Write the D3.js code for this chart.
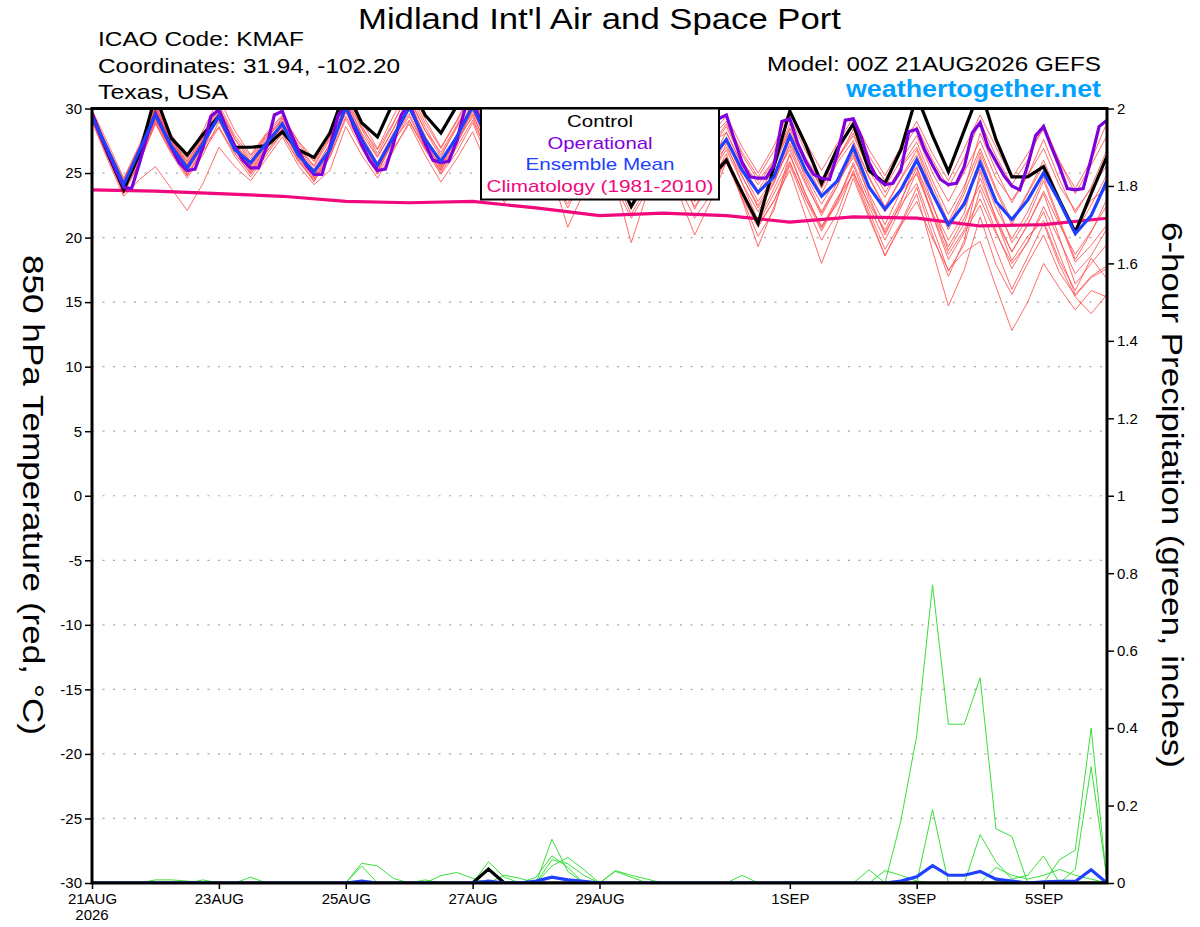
<!DOCTYPE html>
<html>
<head>
<meta charset="utf-8">
<script src="https://cdn.jsdelivr.net/npm/d3@7"></script>
<style>
  body { margin: 0; background: #fff; }
  text { font-family: "Liberation Sans", Arial, Helvetica, sans-serif; }
</style>
</head>
<body>
<svg id="chart" width="1200" height="927"></svg>
<script>
// axis ticks and labels
const tempTicks = [-30,-25,-20,-15,-10,-5,0,5,10,15,20,25,30];
const precipTicks = [0,0.2,0.4,0.6,0.8,1,1.2,1.4,1.6,1.8,2];
const dateTickHours = [0,48,96,144,192,264,312,360];
const dateTickLabels = ["21AUG","23AUG","25AUG","27AUG","29AUG","1SEP","3SEP","5SEP"];
const yearLabel = "2026";
const legendLabels = ["Control","Operational","Ensemble Mean","Climatology (1981-2010)"];

// 6-hourly series, 00Z 21AUG .. 00Z 6SEP (65 values)
const meanTemp = [29.4,26.8,24.1,26.8, 29.5,27.1,25.4,27.3, 29.4,26.8,25.8,27.3, 28.8,26.4,25.1,26.8,
  30.1,27.6,25.6,27.8, 30.1,27.6,25.9,27.8, 30.2,27.5,25.0,27.0, 29.5,27.0,24.8,26.8,
  29.0,26.5,24.2,26.3, 28.6,26.3,24.5,26.0, 27.6,25.2,23.5,24.7, 27.9,25.2,23.2,24.4,
  27.0,23.9,22.2,23.7, 26.0,23.4,21.0,22.6, 25.8,22.8,21.4,22.9, 25.0,22.8,20.3,21.7, 24.4];

const controlTemp = [29.6,26.5,23.7,26.5, 31.0,27.7,26.4,28.0, 29.4,27.0,27.0,27.1, 28.2,26.8,26.2,28.1,
  31.5,28.9,27.8,30.5, 32.0,29.5,28.1,30.2, 32.0,29.0,26.5,28.5, 30.5,27.5,25.5,27.0,
  28.5,25.0,22.4,24.5, 27.5,25.6,23.5,24.6, 26.0,23.5,21.1,25.5, 29.8,27.2,24.2,26.9,
  28.8,25.2,24.2,26.8, 31.0,27.9,25.1,28.3, 31.5,27.6,24.7,24.7, 25.5,22.9,20.4,23.4, 26.3];

// operational run is 3-hourly (129 values)
const opTemp = [29.6,28.0,26.6,25.2,23.9,23.8,25.8,28.0,
  29.6,28.3,27.0,25.8,25.2,25.3,27.0,29.4,
  29.9,28.4,27.1,26.0,25.4,25.4,27.0,29.5,
  29.8,28.2,26.8,25.6,24.9,24.9,27.0,29.4,
  30.3,28.6,27.2,26.0,25.2,25.3,27.2,29.5,
  30.4,28.8,27.3,26.0,25.8,25.9,27.5,29.9,
  30.6,
  29.0,27.6,26.4,25.6,25.5,27.0,29.3,30.0,
  28.5,27.0,25.8,25.0,25.1,26.8,29.0,29.6,
  28.0,26.6,25.3,24.6,24.6,26.2,28.6,29.3,
  27.8,26.5,25.3,24.8,24.9,26.6,29.2,29.5,
  27.6,25.8,24.7,24.6,24.6,25.6,29.0,29.2,
  27.3,25.9,24.9,24.6,24.5,26.5,29.1,29.2,
  27.8,25.8,24.6,24.1,24.2,25.2,28.2,28.4,
  26.8,25.6,24.5,24.1,24.2,25.5,28.1,28.9,
  27.0,25.9,24.8,24.0,23.7,25.6,27.9,28.6,
  27.0,25.5,23.8,23.7,23.8,26.1,28.6,29.1];

// climatology, one value per day at 00Z
const climTemp = [23.7,23.6,23.4,23.2,22.8,22.7,22.8,22.3,21.7,21.9,21.7,21.2,21.6,21.5,20.9,21.0,21.5];

// ensemble members, 6-hourly
const memberTemps = [
  [29.8,26.9,24.0,26.8, 30.2,27.6,25.9,27.8, 29.6,27.2,25.9,27.6, 29.2,27.0,25.6,27.9, 31.0,28.5,26.8,28.9, 31.2,28.6,26.4,28.5, 30.9,28.0,25.6,27.6, 29.8,27.2,25.0,27.3, 29.5,26.9,24.6,26.8, 28.9,26.6,24.8,26.9, 28.6,26.0,24.1,25.9, 28.5,26.2,24.3,26.2, 28.1,25.5,23.9,26.0, 27.9,25.0,22.8,25.1, 27.5,24.6,22.9,24.8, 26.9,24.0,22.1,23.8, 25.6],
  [29.0,26.0,23.2,24.5, 25.5,23.8,22.1,24.2, 27.0,25.5,24.4,26.1, 27.8,25.6,24.1,25.2, 28.6,26.4,24.6,26.7, 29.0,26.8,24.9,26.6, 28.9,26.0,23.6,25.3, 27.9,24.8,20.8,23.5, 27.4,24.6,22.3,24.5, 27.0,24.0,21.5,23.3, 26.2,23.3,21.0,22.8, 25.8,23.0,20.9,22.6, 25.0,22.6,20.6,22.9, 25.4,21.8,18.7,20.6, 23.0,20.3,18.0,19.6, 22.4,19.8,17.2,18.6, 20.7],
  [29.2,26.4,23.6,26.2, 29.0,26.7,24.8,26.9, 29.9,27.3,25.5,27.2, 28.3,26.2,24.6,26.5, 30.8,28.0,25.1,27.9, 30.6,27.9,25.8,28.0, 29.6,26.8,24.3,26.5, 28.4,25.6,23.4,25.9, 28.1,25.4,23.3,25.0, 27.0,24.8,22.9,24.9, 26.8,24.2,22.0,24.2, 27.3,24.8,22.6,24.6, 26.4,23.4,21.0,23.6, 24.9,21.9,19.3,21.5, 24.1,21.3,18.9,21.0, 23.6,21.0,18.7,20.5, 22.5],
  [29.9,27.3,24.6,27.2, 30.5,28.0,26.1,28.3, 30.8,28.3,26.4,28.1, 29.5,27.4,25.9,28.2, 31.6,29.0,26.9,29.4, 31.8,29.2,27.0,29.1, 31.5,28.6,26.3,28.4, 30.9,28.0,25.8,28.3, 30.6,28.0,25.7,28.1, 30.2,27.8,26.0,28.0, 29.4,27.0,25.0,27.1, 29.9,27.4,25.2,27.3, 29.3,26.8,24.8,27.0, 29.0,26.5,24.4,26.9, 29.5,27.0,24.6,26.5, 28.4,25.9,23.8,26.0, 28.9],
  [29.5,26.7,24.3,26.9, 29.8,27.4,25.5,27.3, 29.2,26.9,25.3,27.0, 28.6,26.6,25.0,26.9, 30.0,27.6,25.4,27.7, 30.3,27.7,25.5,27.9, 30.6,27.9,25.7,27.6, 29.0,26.6,24.4,26.9, 28.2,25.7,23.9,25.8, 28.8,26.2,23.8,25.6, 27.0,24.7,22.5,24.5, 27.6,24.6,22.0,24.3, 26.2,23.9,22.0,23.8, 25.5,22.4,19.8,21.9, 26.3,22.9,19.6,21.5, 24.4,21.2,18.1,19.4, 21.0],
  [29.3,26.5,23.9,26.5, 29.4,27.0,25.1,27.0, 28.6,26.5,25.0,26.7, 28.0,26.0,24.5,26.3, 29.4,27.2,25.0,27.5, 29.1,26.9,25.2,27.4, 29.8,27.3,25.0,27.0, 28.9,26.3,24.0,26.4, 28.5,26.0,23.7,25.2, 27.5,25.0,22.8,24.2, 25.8,23.1,20.8,22.9, 25.2,21.6,18.0,21.2, 24.6,21.5,18.6,21.0, 23.4,19.0,14.7,17.5, 21.6,17.9,15.6,18.0, 20.2,17.3,15.5,16.9, 17.6],
  [29.6,26.8,24.2,26.7, 29.9,27.5,25.6,27.6, 29.3,26.8,25.1,26.9, 28.9,26.9,25.3,27.2, 30.4,27.9,25.8,28.1, 30.0,27.5,25.7,27.9, 29.9,27.1,24.8,27.3, 29.3,26.7,24.6,26.8, 28.8,26.2,23.3,25.5, 28.2,25.4,22.2,24.4, 27.3,24.2,21.3,23.8, 26.4,23.3,20.8,23.1, 24.9,21.7,18.6,20.9, 22.8,19.9,17.5,18.9, 19.7,16.2,12.8,15.0, 18.0,16.1,14.4,15.9, 15.4],
  [29.1,26.3,23.4,25.9, 28.8,26.5,24.6,26.4, 29.0,26.6,24.9,26.6, 28.4,26.3,24.8,26.8, 29.7,27.3,25.1,27.5, 29.9,27.4,25.4,27.6, 30.4,27.6,25.2,27.4, 29.6,26.8,24.2,25.9, 27.7,25.0,22.6,24.8, 28.0,25.6,23.5,25.7, 28.2,25.6,23.3,25.4, 28.4,25.7,23.4,25.8, 27.5,24.7,22.4,24.6, 26.8,23.6,20.6,22.9, 25.3,22.3,19.9,22.0, 24.7,21.4,18.3,20.4, 23.0],
  [29.7,26.9,24.4,27.0, 30.0,27.6,25.7,27.7, 30.3,27.9,26.3,28.0, 29.0,27.0,25.5,27.6, 30.9,28.4,26.3,28.4, 30.7,28.3,26.6,28.7, 31.0,28.2,25.7,27.9, 30.3,27.6,25.4,27.8, 29.8,27.0,24.5,26.6, 29.6,27.2,25.3,27.4, 28.1,25.6,23.6,25.8, 28.8,26.0,23.8,26.1, 27.9,25.2,23.1,25.5, 27.4,24.4,21.8,24.0, 26.9,23.8,21.3,23.5, 26.0,23.0,20.4,22.5, 24.9],
  [29.4,26.6,23.8,26.3, 29.2,26.8,24.9,26.8, 29.5,27.1,25.6,27.4, 28.7,26.4,24.7,26.6, 29.9,27.4,25.3,27.6, 30.4,27.8,25.6,27.7, 29.3,26.5,24.1,26.4, 28.6,25.8,23.3,25.4, 27.4,24.6,21.8,24.0, 26.7,23.4,20.2,22.8, 25.9,23.0,20.1,22.1, 26.5,23.4,20.7,22.9, 25.8,22.9,20.4,22.5, 24.2,20.8,17.4,19.5, 23.7,20.5,17.6,19.7, 22.0,18.7,15.6,17.0, 17.8],
  [29.3,26.5,23.7,26.4, 29.6,27.2,25.3,27.4, 29.1,26.9,25.5,27.1, 28.5,26.1,24.3,26.5, 29.8,27.5,25.5,27.8, 30.1,27.6,25.3,27.2, 30.0,27.3,25.0,27.1, 28.7,26.2,24.3,25.9, 28.3,25.5,22.9,25.1, 28.5,25.9,23.8,25.8, 27.5,24.8,22.3,24.3, 27.1,24.3,21.7,24.0, 26.6,23.2,20.2,22.7, 26.1,22.6,19.0,21.1, 24.6,21.6,18.9,21.0, 23.4,20.0,16.4,18.0, 19.5],
  [29.6,26.7,24.0,26.6, 30.1,27.6,25.7,27.6, 29.7,27.3,25.8,27.5, 29.3,27.2,25.9,27.7, 30.6,28.1,26.2,28.4, 30.9,28.3,26.2,28.6, 30.7,28.0,25.9,28.1, 30.1,27.5,25.4,27.6, 29.9,27.3,25.2,27.0, 29.1,26.9,25.1,27.1, 28.8,26.4,24.4,26.0, 28.1,25.9,24.0,26.0, 28.4,25.8,23.5,25.4, 27.0,24.0,21.2,23.7, 28.1,25.2,22.7,24.8, 27.6,24.5,21.9,23.9, 26.8],
  [29.0,26.2,23.5,25.8, 28.9,26.6,24.8,26.7, 28.5,26.3,24.7,26.4, 28.1,25.9,24.4,26.2, 29.2,26.9,24.9,26.9, 28.8,26.4,24.3,26.1, 28.2,25.3,22.7,25.0, 27.6,24.8,22.3,24.7, 26.9,24.0,21.5,23.6, 27.3,24.6,22.4,24.3, 26.5,22.9,19.3,22.4, 25.6,22.6,19.8,21.9, 25.2,22.0,19.1,21.1, 23.9,20.2,17.0,19.8, 25.1,21.4,18.2,20.1, 21.3,18.2,15.9,18.4, 16.8],
  [29.5,26.8,24.3,26.9, 29.9,27.4,25.4,27.5, 30.0,27.6,25.9,27.8, 29.0,26.8,25.1,27.3, 30.3,27.7,25.5,27.6, 29.6,27.1,25.0,27.0, 29.1,26.4,24.0,26.2, 28.0,25.5,23.7,25.8, 28.6,25.9,23.6,25.9, 28.3,25.6,23.1,25.0, 27.7,25.1,22.8,24.7, 26.8,24.1,21.9,24.0, 27.3,24.6,22.3,24.5, 26.4,23.5,20.9,23.4, 26.6,23.6,21.0,23.4, 25.6,22.8,20.7,22.9, 23.8],
  [29.8,27.0,24.5,27.1, 30.3,27.8,25.9,28.0, 30.1,27.7,26.1,27.9, 29.4,27.5,26.1,28.3, 31.2,28.7,26.5,28.8, 31.5,28.9,26.9,29.0, 31.2,28.5,26.4,28.6, 30.6,27.9,25.9,28.2, 30.2,27.5,25.3,27.6, 29.7,27.4,25.7,27.7, 29.0,26.6,24.7,26.7, 29.3,26.7,24.5,26.6, 28.8,26.3,24.4,26.6, 28.6,26.0,23.9,26.2, 29.0,26.3,24.1,26.0, 28.8,25.9,23.4,25.6, 27.9],
  [29.2,26.4,23.7,26.0, 29.1,26.9,25.2,27.1, 29.4,27.0,25.2,26.9, 28.8,26.7,25.0,27.0, 30.2,27.8,25.6,27.4, 29.4,27.0,25.2,27.3, 29.5,26.9,24.6,26.0, 26.9,24.4,22.6,24.9, 27.9,24.2,19.6,23.4, 27.8,25.2,22.9,24.8, 26.2,23.4,21.1,23.4, 25.9,23.0,20.5,22.8, 25.6,22.4,19.8,22.3, 25.1,21.7,18.3,20.4, 22.5,19.1,16.0,18.5, 21.1,17.9,15.4,14.1, 15.6]
];

// 6-hour precipitation (inches), 6-hourly
const memberPrecip = [
  [0,0,0,0, 0,0,0,0, 0,0,0,0, 0,0,0,0, 0,.051,.044,.012, 0,0,0,0, 0,0,0,0, 0,.113,.03,0, 0,0,0,0, 0,0,0,0, 0,0,0,0, 0,0,0,0, 0,0,0,.16, .38,.77,.41,.41, .53,.14,.12,0, 0,0,0,0, 0],
  [0,0,0,0, 0,0,0,0, 0,0,0,0, 0,0,0,0, 0,.044,0,0, 0,0,0,0, 0,.055,.015,0, 0,.044,.066,.035, 0,0,0,0, 0,0,0,0, 0,0,0,0, 0,0,0,0, 0,0,0,0, 0,.19,0,0, 0,0,0,0, 0,0,0,0, 0],
  [0,0,0,0, 0,0,0,0, 0,0,0,0, 0,0,0,0, 0,0,0,0, 0,0,.019,.027, .012,0,0,0, 0,.06,.05,.02, 0,.032,.02,.01, 0,0,0,0, 0,0,0,0, 0,0,0,0, 0,0,0,0, 0,0,0,0, .125,.055,.01,.02, .07,0,0,0, 0],
  [0,0,0,0, .008,.008,.005,0, 0,0,.015,0, 0,0,0,0, 0,0,0,0, 0,0,0,0, 0,0,.02,.012, 0,0,0,0, 0,0,0,0, 0,0,0,0, 0,.02,0,0, 0,0,0,0, 0,0,0,0, 0,0,0,0, 0,0,0,0, 0,.06,.085,.40, 0],
  [0,0,0,0, 0,0,0,.008, 0,0,0,0, 0,0,0,0, 0,0,0,0, 0,.008,0,0, 0,0,0,0, .015,.07,.04,0, 0,0,0,0, 0,0,0,0, 0,0,0,0, 0,0,0,0, 0,.034,0,0, 0,0,0,0, 0,0,0,0, 0,0,.035,.30, .01],
  [0,0,0,0, 0,0,0,0, 0,0,0,0, 0,0,0,0, 0,0,0,0, 0,0,0,0, 0,0,0,0, 0,0,0,0, 0,.03,.015,0, 0,0,0,0, 0,0,0,0, 0,0,0,0, 0,0,.032,.02, .005,0,0,0, 0,.04,.02,.01, .02,.035,.02,.01, 0]
];
const meanPrecip = [0,0,0,0, 0,0,0,0, 0,0,0,0, 0,0,0,0, 0,.005,0,0, 0,0,0,0, 0,.005,0,0, .005,.015,.008,.004, 0,0,0,0, 0,0,0,0, 0,0,0,0, 0,0,0,0, 0,0,0,.005, .016,.045,.02,.02, .03,.01,.005,0, .003,.004,.004,.034, 0];
const controlPrecip = [0,0,0,0, 0,0,0,0, 0,0,0,0, 0,0,0,0, 0,0,0,0, 0,0,0,0, 0,.036,0,0, 0,0,0,0, 0,0,0,0, 0,0,0,0, 0,0,0,0, 0,0,0,0, 0,0,0,0, 0,0,0,0, 0,0,0,0, 0,0,0,0, 0];

const svg = d3.select("#chart");
const plot = {left: 92, right: 1107, top: 108.5, bottom: 883};

const x = d3.scaleLinear().domain([0, 384]).range([plot.left, plot.right]);
const y = d3.scaleLinear().domain([-30, 30]).range([plot.bottom, plot.top]);
const yP = d3.scaleLinear().domain([0, 2]).range([plot.bottom, plot.top]);

svg.append("clipPath").attr("id", "plotclip")
  .append("rect")
  .attr("x", plot.left).attr("y", plot.top)
  .attr("width", plot.right - plot.left).attr("height", plot.bottom - plot.top);

// dotted grid at temperature ticks
svg.append("g").selectAll("line")
  .data(tempTicks.filter(d => d > -30 && d < 30))
  .join("line")
  .attr("x1", plot.left).attr("x2", plot.right)
  .attr("y1", d => y(d)).attr("y2", d => y(d))
  .attr("stroke", "#a8a8a8").attr("stroke-width", 1.2)
  .attr("stroke-dasharray", "2,8.5");

const lines = svg.append("g").attr("clip-path", "url(#plotclip)");

const line6 = (scale) => d3.line().x((d, i) => x(i * 6)).y(d => scale(d));
const line3 = d3.line().x((d, i) => x(i * 3)).y(d => y(d));
const line24 = d3.line().x((d, i) => x(i * 24)).y(d => y(d));

lines.selectAll(".member").data(memberTemps).join("path")
  .attr("class", "member")
  .attr("d", line6(y))
  .attr("fill", "none").attr("stroke", "#ff5252").attr("stroke-width", 1)
  .attr("stroke-opacity", 0.85);

lines.selectAll(".pmember").data(memberPrecip).join("path")
  .attr("class", "pmember")
  .attr("d", line6(yP))
  .attr("fill", "none").attr("stroke", "#38e038").attr("stroke-width", 1);

lines.append("path").datum(climTemp).attr("d", line24)
  .attr("fill", "none").attr("stroke", "#f0087c").attr("stroke-width", 3.2);

lines.append("path").datum(controlTemp).attr("d", line6(y))
  .attr("fill", "none").attr("stroke", "#000").attr("stroke-width", 3.2);
lines.append("path").datum(controlPrecip).attr("d", line6(yP))
  .attr("fill", "none").attr("stroke", "#000").attr("stroke-width", 3.2);

lines.append("path").datum(opTemp).attr("d", line3)
  .attr("fill", "none").attr("stroke", "#7f00dc").attr("stroke-width", 3.2);

lines.append("path").datum(meanTemp).attr("d", line6(y))
  .attr("fill", "none").attr("stroke", "#2040ff").attr("stroke-width", 3.2);
lines.append("path").datum(meanPrecip).attr("d", line6(yP))
  .attr("fill", "none").attr("stroke", "#2040ff").attr("stroke-width", 3.2);

// frame
svg.append("rect")
  .attr("x", plot.left).attr("y", plot.top)
  .attr("width", plot.right - plot.left).attr("height", plot.bottom - plot.top)
  .attr("fill", "none").attr("stroke", "#000").attr("stroke-width", 3);

// axes
const styleAxis = g => {
  g.select(".domain").remove();
  g.selectAll("line").attr("stroke", "#000").attr("stroke-width", 1.5);
  g.selectAll("text").attr("fill", "#000")
    .style("font-family", "'Liberation Sans', Arial, sans-serif").style("font-size", "15px");
};

svg.append("g").attr("transform", `translate(${plot.left - 1},0)`)
  .call(d3.axisLeft(y).tickValues(tempTicks).tickSize(6).tickPadding(3).tickFormat(d => String(d)))
  .call(styleAxis);

svg.append("g").attr("transform", `translate(${plot.right + 1},0)`)
  .call(d3.axisRight(yP).tickValues(precipTicks).tickSize(6).tickPadding(3).tickFormat(d => String(d)))
  .call(styleAxis);

svg.append("g").attr("transform", `translate(0,${plot.bottom + 1})`)
  .call(d3.axisBottom(x).tickValues(dateTickHours).tickSize(5).tickPadding(4)
    .tickFormat((d, i) => dateTickLabels[i]))
  .call(styleAxis);

svg.append("text").attr("x", x(0)).attr("y", 920)
  .attr("text-anchor", "middle").style("font-size", "15px").text(yearLabel);

// stretched text helper: reference lettering is wider than Arial
const wideText = (sel, len) => sel.attr("textLength", len).attr("lengthAdjust", "spacingAndGlyphs");

// titles
svg.append("text").attr("x", 358).attr("y", 29)
  .style("font-size", "29px").text("Midland Int'l Air and Space Port")
  .call(wideText, 483);

const info = ["ICAO Code: KMAF", "Coordinates: 31.94, -102.20", "Texas, USA"];
const infoLen = [206, 302, 130];
svg.append("g").selectAll("text").data(info).join("text")
  .attr("x", 98).attr("y", (d, i) => 46 + i * 26.5)
  .style("font-size", "21px").text(d => d)
  .attr("textLength", (d, i) => infoLen[i]).attr("lengthAdjust", "spacingAndGlyphs");

svg.append("text").attr("x", 767).attr("y", 71)
  .style("font-size", "20.5px").text("Model: 00Z 21AUG2026 GEFS")
  .call(wideText, 334);
svg.append("text").attr("x", 846).attr("y", 97)
  .style("font-size", "23px").style("font-weight", "bold").attr("fill", "#00a0ff")
  .text("weathertogether.net")
  .call(wideText, 255);

svg.append("text").attr("transform", "translate(23,255) rotate(90)")
  .style("font-size", "30px")
  .text("850 hPa Temperature (red, °C)")
  .call(wideText, 480);
svg.append("text").attr("transform", "translate(1162,222) rotate(90)")
  .style("font-size", "29px")
  .text("6-hour Precipitation (green, inches)")
  .call(wideText, 546);

// legend
const legendColors = ["#000", "#7f00dc", "#2040ff", "#f0087c"];
const legendLen = [66, 105, 149, 227];
const legend = svg.append("g");
legend.append("rect").attr("x", 481).attr("y", plot.top).attr("width", 238).attr("height", 91)
  .attr("fill", "#fff").attr("stroke", "#000").attr("stroke-width", 2);
legend.selectAll("text").data(legendLabels).join("text")
  .attr("x", (d, i) => 600 - legendLen[i] / 2).attr("y", (d, i) => 127 + i * 21.6)
  .style("font-size", "17px")
  .attr("textLength", (d, i) => legendLen[i]).attr("lengthAdjust", "spacingAndGlyphs")
  .attr("fill", (d, i) => legendColors[i]).text(d => d);
</script>
</body>
</html>
